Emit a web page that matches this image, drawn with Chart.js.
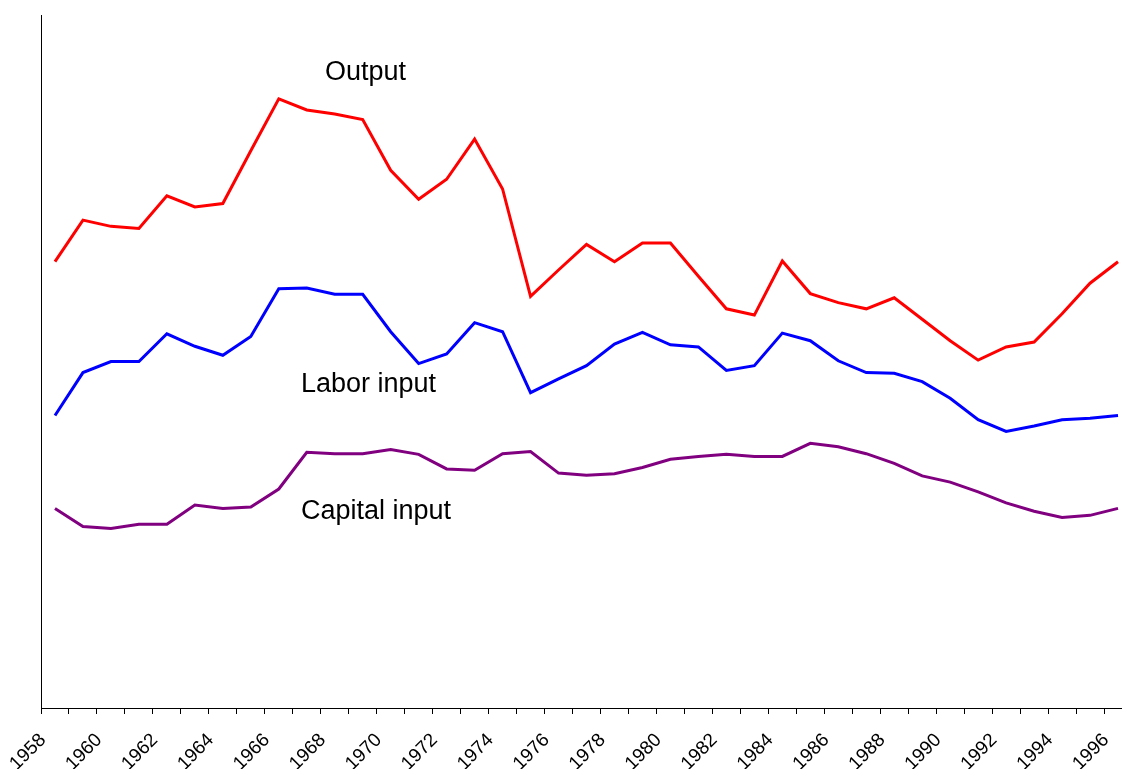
<!DOCTYPE html>
<html>
<head>
<meta charset="utf-8">
<script src="https://cdn.jsdelivr.net/npm/chart.js@4"></script>
<style>
  html, body { margin: 0; padding: 0; background: #fff; overflow: hidden; }
  #wrap { width: 1132px; height: 769px; }
</style>
</head>
<body>
<div id="wrap"><canvas id="chart" width="1132" height="769"></canvas></div>
<script>
// years 1958 .. 1996
const years = [
    '1958', '1959', '1960', '1961', '1962', '1963', '1964', '1965', '1966', '1967',
    '1968', '1969', '1970', '1971', '1972', '1973', '1974', '1975', '1976', '1977',
    '1978', '1979', '1980', '1981', '1982', '1983', '1984', '1985', '1986', '1987',
    '1988', '1989', '1990', '1991', '1992', '1993', '1994', '1995', '1996'
];

// index values (arbitrary scale, axis has no labels)
const output = [
    64.4, 70.4, 69.5, 69.2, 73.9, 72.3, 72.8, 80.4, 87.9, 86.3,
    85.7, 84.9, 77.6, 73.4, 76.3, 82.1, 74.9, 59.4, 63.2, 66.9,
    64.4, 67.1, 67.1, 62.3, 57.6, 56.7, 64.5, 59.8, 58.5, 57.6,
    59.2, 56.1, 53.0, 50.2, 52.1, 52.8, 56.9, 61.3, 64.4
];
const laborInput = [
    42.2, 48.4, 50.0, 50.0, 54.0, 52.2, 50.9, 53.6, 60.5, 60.6,
    59.7, 59.7, 54.3, 49.7, 51.1, 55.6, 54.3, 45.5, 47.5, 49.4,
    52.5, 54.2, 52.4, 52.1, 48.7, 49.4, 54.1, 53.0, 50.1, 48.4,
    48.3, 47.1, 44.7, 41.6, 39.9, 40.7, 41.6, 41.8, 42.2
];
const capitalInput = [
    28.8, 26.2, 25.9, 26.5, 26.5, 29.3, 28.8, 29.0, 31.6, 36.9,
    36.7, 36.7, 37.3, 36.6, 34.5, 34.3, 36.7, 37.0, 33.9, 33.6,
    33.8, 34.7, 35.9, 36.3, 36.6, 36.3, 36.3, 38.2, 37.7, 36.7,
    35.3, 33.5, 32.6, 31.2, 29.6, 28.4, 27.5, 27.8, 28.8
];

const seriesNames = ['Output', 'Labor input', 'Capital input'];

const labelFont = '27px "Liberation Sans", Arial, sans-serif';

// text labels placed next to each line
const seriesLabels = {
    id: 'seriesLabels',
    afterDraw(chart) {
        const ctx = chart.ctx;
        ctx.save();
        ctx.font = labelFont;
        ctx.fillStyle = '#000';
        ctx.textBaseline = 'alphabetic';
        ctx.fillText(seriesNames[0], 325, 80);
        ctx.fillText(seriesNames[1], 301, 392);
        ctx.fillText(seriesNames[2], 301, 519);
        ctx.restore();
    }
};

const makeLine = (label, data, color) => ({
    label: label,
    data: data,
    borderColor: color,
    backgroundColor: color,
    borderWidth: 3,
    pointRadius: 0,
    tension: 0,
    fill: false
});

new Chart(document.getElementById('chart').getContext('2d'), {
    type: 'line',
    data: {
        labels: years,
        datasets: [
            makeLine(seriesNames[0], output, '#ff0000'),
            makeLine(seriesNames[1], laborInput, '#0000ff'),
            makeLine(seriesNames[2], capitalInput, '#800080')
        ]
    },
    options: {
        responsive: false,
        animation: false,
        devicePixelRatio: 1,
        layout: { padding: { top: 15, left: 0, right: 0, bottom: 0 } },
        plugins: {
            legend: { display: false },
            tooltip: { enabled: false }
        },
        scales: {
            x: {
                offset: true,
                grid: {
                    offset: true,
                    drawOnChartArea: false,
                    drawTicks: true,
                    tickLength: 6,
                    color: '#000'
                },
                border: { display: true, color: '#000', width: 1 },
                ticks: {
                    autoSkip: false,
                    maxRotation: 45,
                    minRotation: 45,
                    labelOffset: -12,
                    padding: 15,
                    color: '#000',
                    font: { family: '"Liberation Sans", Arial, sans-serif', size: 19 },
                    callback: function (value, index) {
                        const y = years[index];
                        return Number(y) % 2 === 0 ? y : '';
                    }
                },
                afterFit: (scale) => {
                    scale.height = 61;
                    // plot runs off the right edge, like the original
                    scale.paddingLeft = 0;
                    scale.paddingRight = 0;
                }
            },
            y: {
                min: 0,
                max: 100,
                grid: { display: false },
                border: { display: true, color: '#000', width: 1 },
                ticks: { display: false },
                afterFit: (scale) => { scale.width = 41; }
            }
        }
    },
    plugins: [seriesLabels]
});
</script>
</body>
</html>
